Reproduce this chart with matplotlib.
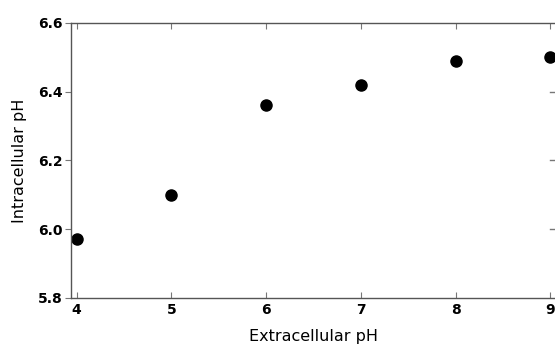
import matplotlib
matplotlib.use('Agg')
import matplotlib.pyplot as plt

# Extracellular vs intracellular pH
extracellular_ph = [4, 5, 6, 7, 8, 9]
intracellular_ph = [5.97, 6.10, 6.36, 6.42, 6.49, 6.50]

x_ticks = [4, 5, 6, 7, 8, 9]
y_ticks = [5.8, 6.0, 6.2, 6.4, 6.6]

fig = plt.figure(figsize=(5.55, 3.48), dpi=100)
ax = fig.add_axes([0.128, 0.144, 0.872, 0.79])

ax.plot(extracellular_ph, intracellular_ph, 'o', color='black', markersize=8)

ax.set_xlim(3.94, 9.05)
ax.set_ylim(5.8, 6.6)
ax.set_xticks(x_ticks)
ax.set_yticks(y_ticks)
ax.set_yticklabels(['%.1f' % v for v in y_ticks])

for side in ['left', 'bottom', 'top']:
    ax.spines[side].set_color('#555555')
    ax.spines[side].set_linewidth(1.0)
ax.spines['right'].set_visible(False)

ax.tick_params(axis='x', direction='in', top=True, length=4, color='#777777',
               labelsize=10, pad=4)
ax.tick_params(axis='y', direction='out', right=False, length=4, color='#777777',
               labelsize=10, pad=2)
for lbl in ax.get_xticklabels() + ax.get_yticklabels():
    lbl.set_fontweight('bold')

# inward ticks along the right edge
for v in y_ticks[1:-1]:
    ax.plot([9.0, 9.05], [v, v], color='#777777', linewidth=1, clip_on=False)

ax.set_xlabel('Extracellular pH', fontsize=11.5, labelpad=8)
ax.set_ylabel('Intracellular pH', fontsize=11.5, labelpad=8)

plt.savefig('out.png', dpi=100)
plt.close()
